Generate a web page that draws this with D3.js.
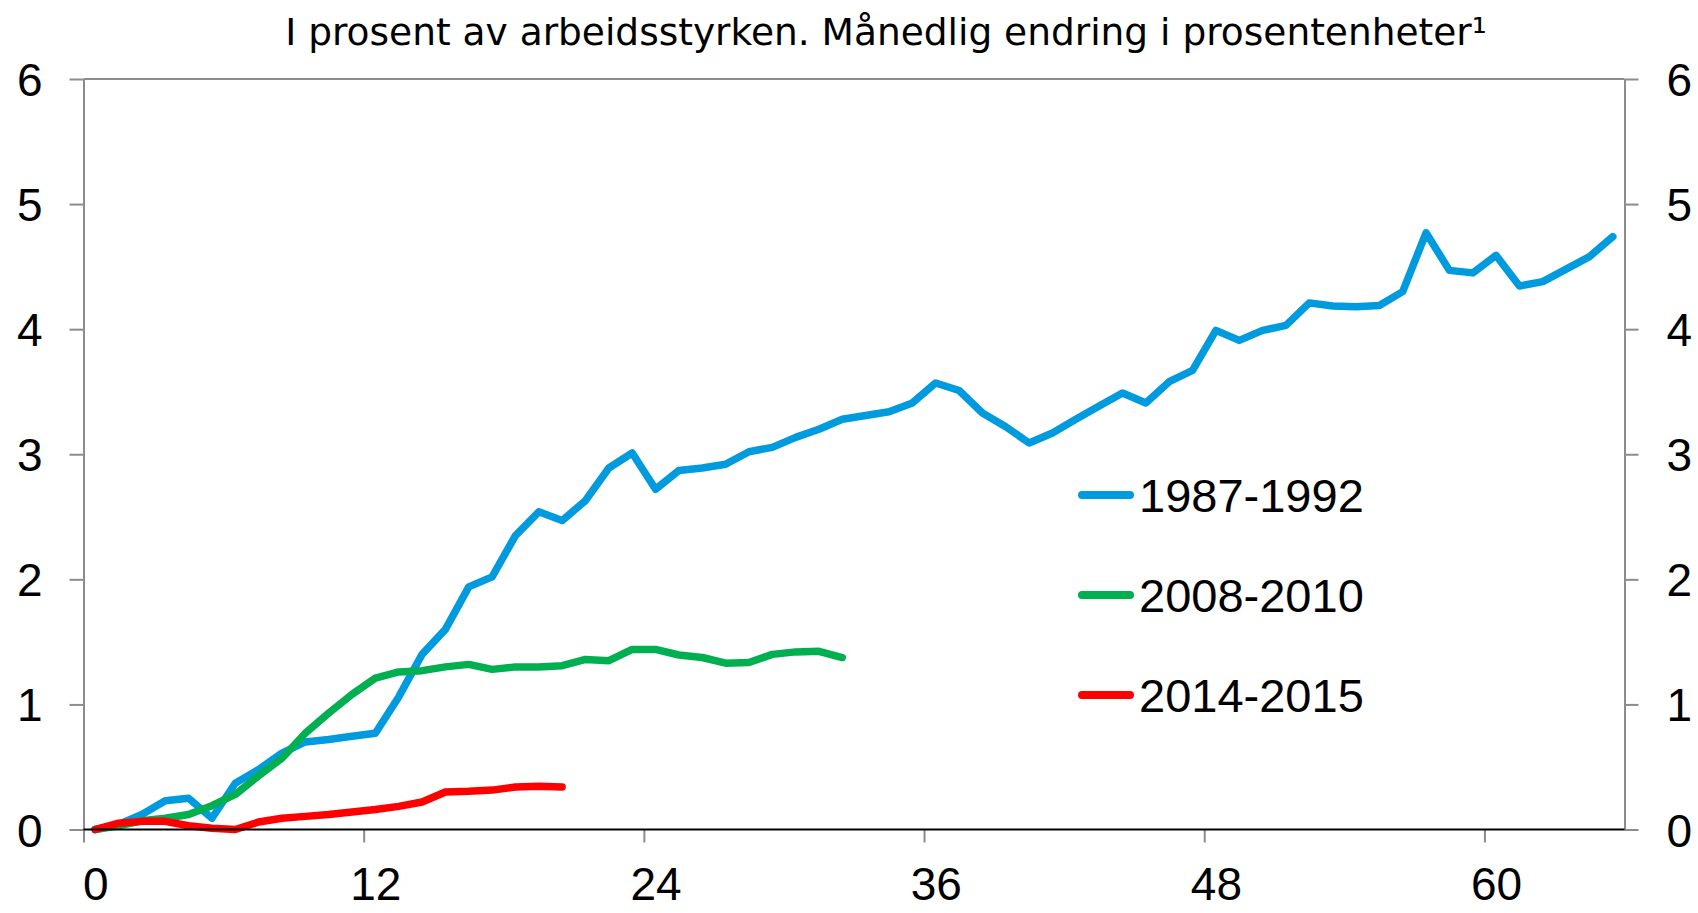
<!DOCTYPE html>
<html lang="no">
<head>
<meta charset="UTF-8">
<title>Ledighet</title>
<script src="https://d3js.org/d3.v7.min.js"></script>
<style>
  body { margin: 0; background: #fff; }
  svg text { fill: #000; }
</style>
</head>
<body>
<svg id="chart" width="1698" height="913"></svg>
<script>
// months since start (category 0..65)
const titleText = 'I prosent av arbeidsstyrken. Månedlig endring i prosentenheter¹';
const xTickValues = [0, 12, 24, 36, 48, 60];
const yTickValues = [0, 1, 2, 3, 4, 5, 6];
const seriesNames = ['1987-1992', '2008-2010', '2014-2015'];

const s1987 = [0, 0.04, 0.12, 0.23, 0.25, 0.09, 0.37, 0.48, 0.61, 0.70,
  0.72, 0.745, 0.77, 1.06, 1.40, 1.60, 1.94, 2.02, 2.35, 2.54,
  2.47, 2.63, 2.89, 3.01, 2.72, 2.87, 2.89, 2.92, 3.02, 3.055,
  3.135, 3.20, 3.28, 3.31, 3.34, 3.41, 3.57, 3.51, 3.33, 3.22,
  3.09, 3.17, 3.28, 3.385, 3.49, 3.41, 3.58, 3.67, 3.99, 3.91,
  3.99, 4.03, 4.21, 4.185, 4.18, 4.19, 4.30, 4.77, 4.47, 4.45,
  4.59, 4.345, 4.38, 4.48, 4.58, 4.74];
const s2008 = [0, 0.03, 0.07, 0.09, 0.12, 0.19, 0.28, 0.43, 0.57, 0.77,
  0.93, 1.08, 1.21, 1.26, 1.27, 1.30, 1.32, 1.28, 1.30, 1.30,
  1.31, 1.36, 1.35, 1.44, 1.44, 1.395, 1.375, 1.33, 1.335, 1.40,
  1.42, 1.425, 1.375];
const s2014 = [0, 0.05, 0.065, 0.065, 0.03, 0.01, 0.0, 0.06, 0.09, 0.105,
  0.12, 0.14, 0.16, 0.185, 0.22, 0.30, 0.305, 0.315, 0.34, 0.345,
  0.34];

const colors = ['#009bde', '#00b050', '#ff0000'];
const series = [s1987, s2008, s2014];

const svg = d3.select('#chart');
const plotLeft = 83.5, plotRight = 1624.5, plotTop = 79, plotBottom = 829.5;
const nCat = 66;

// category boundaries, points sit in the middle of each category
const x = d3.scaleLinear().domain([0, nCat]).range([plotLeft, plotRight]);
const y = d3.scaleLinear().domain([0, 6]).range([plotBottom, plotTop]);
const half = (x(1) - x(0)) / 2;

const tickFont = '"Liberation Sans", Arial, sans-serif';
const gray = '#8c8c8c';

// title
svg.append('text')
  .attr('x', 886)
  .attr('y', 45)
  .attr('text-anchor', 'middle')
  .style('font-family', '"DejaVu Sans", Verdana, sans-serif')
  .style('font-size', '37.5px')
  .text(titleText);

// left axis
const yLeft = svg.append('g')
  .attr('transform', `translate(${plotLeft},0)`)
  .call(d3.axisLeft(y).tickValues(yTickValues).tickSize(14).tickSizeOuter(0).tickPadding(27).tickFormat(d3.format('d')));
// right axis
const yRight = svg.append('g')
  .attr('transform', `translate(${plotRight},0)`)
  .call(d3.axisRight(y).tickValues(yTickValues).tickSize(14).tickSizeOuter(0).tickPadding(28).tickFormat(d3.format('d')));

[yLeft, yRight].forEach(g => {
  g.select('.domain').attr('stroke', gray).attr('stroke-width', 2);
  g.selectAll('.tick line').attr('stroke', gray).attr('stroke-width', 2);
  g.selectAll('.tick text')
    .attr('dy', '0.36em')
    .style('font-family', tickFont)
    .style('font-size', '46px');
});

// top border
svg.append('line')
  .attr('x1', plotLeft).attr('x2', plotRight)
  .attr('y1', y(6)).attr('y2', y(6))
  .attr('stroke', gray).attr('stroke-width', 2);

// bottom axis: ticks on category boundaries, labels centred in category
const xAxis = svg.append('g')
  .attr('transform', `translate(0,${plotBottom})`)
  .call(d3.axisBottom(x).tickValues(xTickValues).tickSize(13).tickSizeOuter(0).tickPadding(25).tickFormat(d3.format('d')));
xAxis.select('.domain').remove();
xAxis.selectAll('.tick line').attr('stroke', gray).attr('stroke-width', 2);
xAxis.selectAll('.tick text')
  .attr('x', half)
  .attr('dy', '0.71em')
  .style('font-family', tickFont)
  .style('font-size', '46px');

// lines
const line = d3.line()
  .x((d, i) => x(i + 0.5))
  .y(d => y(d));

series.forEach((s, k) => {
  svg.append('path')
    .datum(s)
    .attr('d', line)
    .attr('fill', 'none')
    .attr('stroke', colors[k])
    .attr('stroke-width', 7.5)
    .attr('stroke-linejoin', 'round')
    .attr('stroke-linecap', 'round');
});

// zero line on top
svg.append('line')
  .attr('x1', plotLeft).attr('x2', plotRight)
  .attr('y1', y(0)).attr('y2', y(0))
  .attr('stroke', '#000').attr('stroke-width', 2);

// legend
const legend = svg.append('g').attr('transform', 'translate(1082,495)');
seriesNames.forEach((name, k) => {
  const row = legend.append('g').attr('transform', `translate(0,${k * 100})`);
  row.append('line')
    .attr('x1', 0).attr('x2', 48)
    .attr('stroke', colors[k])
    .attr('stroke-width', 8)
    .attr('stroke-linecap', 'round');
  row.append('text')
    .attr('x', 57)
    .attr('y', 17)
    .style('font-family', tickFont)
    .style('font-size', '47px')
    .text(name);
});
</script>
</body>
</html>
